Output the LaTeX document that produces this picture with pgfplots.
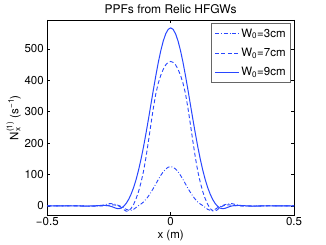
\documentclass[border=0pt]{standalone}
\usepackage{pgfplots}
\pgfplotsset{compat=1.18}
\usepackage{amsmath}
\usepackage{fontspec}
\setmainfont{TeX Gyre Heros}
\definecolor{mblue}{RGB}{40,70,255}
\begin{document}
\begin{tikzpicture}
\path[use as bounding box] (-47.3pt,-29.7pt) rectangle (278.7pt,215.3pt);
\begin{axis}[
  at={(0,0)}, anchor=south west,
  scale only axis, width=246.7pt, height=195.3pt,
  xmin=-0.5, xmax=0.5, ymin=-30, ymax=592,
  xtick={-0.5,0,0.5}, xticklabels={−0.5,0,0.5},
  ytick={0,100,200,300,400,500},
  tick align=inside, major tick length=3pt,
  minor tick num=0,
  axis line style={black, line width=0.6pt},
  every tick/.style={black, line width=0.4pt},
  tick label style={font=\fontsize{11.5}{13}\selectfont},
  xticklabel style={yshift=1.5pt},
  /pgf/number format/assume math mode=true,
  title={PPFs from Relic HFGWs},
  title style={font=\fontsize{12}{14}\selectfont, yshift=-3pt},
  xlabel={x (m)},
  xlabel style={font=\fontsize{11.5}{13}\selectfont, yshift=2.5pt},
  ylabel={N$_{\text{x}}^{\text{(1)}}$ (s$^{\text{−1}}$)},
  ylabel style={font=\fontsize{11.5}{13}\selectfont, yshift=-3pt},
  legend cell align=left,
  legend style={at={(0.988,0.983)}, anchor=north east, draw=black!60, line width=0.9pt,
    font=\fontsize{11.5}{13}\selectfont, row sep=5.5pt, inner sep=3pt},
  legend image code/.code={\draw[#1] (0pt,0pt) -- (24pt,0pt);},
]
\addplot[mblue, line width=0.9pt, dash pattern=on 4pt off 2pt on 0.8pt off 2pt] coordinates {
(-0.50,0) (-0.45,0) (-0.40,0.5) (-0.36,0) (-0.33,-1) (-0.30,-1) (-0.28,1) (-0.27,3) (-0.26,5) (-0.25,7) (-0.24,7) (-0.23,6) (-0.22,4) (-0.21,1) (-0.20,-2) (-0.19,-6) (-0.18,-11) (-0.17,-14) (-0.16,-14) (-0.15,-11) (-0.14,-5) (-0.13,1) (-0.12,6) (-0.11,12.5) (-0.10,21) (-0.09,31) (-0.08,43) (-0.07,56) (-0.06,70) (-0.05,84) (-0.04,97.2) (-0.03,108.6) (-0.02,117.4) (-0.01,123.1)
(0,125)
(0.01,123.1) (0.02,117.4) (0.03,108.6) (0.04,97.2) (0.05,84) (0.06,70) (0.07,56) (0.08,43) (0.09,31) (0.10,21) (0.11,12.5) (0.12,6) (0.13,1) (0.14,-5) (0.15,-11) (0.16,-14) (0.17,-14) (0.18,-11) (0.19,-6) (0.20,-2) (0.21,1) (0.22,4) (0.23,6) (0.24,7) (0.25,7) (0.26,5) (0.27,3) (0.28,1) (0.30,-1) (0.33,-1) (0.36,0) (0.40,0.5) (0.45,0) (0.50,0)
};
\addlegendentry{W$_{\text{0}}$=3cm}
\addplot[mblue, line width=0.9pt, dash pattern=on 4pt off 2.5pt] coordinates {
(-0.50,0) (-0.45,0) (-0.40,0.3) (-0.36,0) (-0.33,-0.5) (-0.30,-0.5) (-0.28,0) (-0.26,1) (-0.25,2) (-0.24,3) (-0.23,3) (-0.22,2) (-0.21,-1) (-0.20,-5) (-0.19,-12) (-0.18,-17) (-0.17,-16) (-0.16,-8) (-0.15,5) (-0.14,23) (-0.13,46) (-0.12,75) (-0.11,110) (-0.10,155) (-0.09,206) (-0.08,260) (-0.07,312) (-0.06,358) (-0.05,391) (-0.04,416) (-0.03,435) (-0.02,449) (-0.01,457)
(0,460)
(0.01,457) (0.02,449) (0.03,435) (0.04,416) (0.05,391) (0.06,358) (0.07,312) (0.08,260) (0.09,206) (0.10,155) (0.11,110) (0.12,75) (0.13,46) (0.14,23) (0.15,5) (0.16,-8) (0.17,-16) (0.18,-17) (0.19,-12) (0.20,-5) (0.21,-1) (0.22,2) (0.23,3) (0.24,3) (0.25,2) (0.26,1) (0.28,0) (0.30,-0.5) (0.33,-0.5) (0.36,0) (0.40,0.3) (0.45,0) (0.50,0)
};
\addlegendentry{W$_{\text{0}}$=7cm}
\addplot[mblue, line width=1pt] coordinates {
(-0.50,0) (-0.45,0) (-0.40,0.3) (-0.36,-0.5) (-0.33,-0.5) (-0.30,0.5) (-0.29,1) (-0.28,1.5) (-0.27,1.5) (-0.26,1) (-0.25,0) (-0.24,-2) (-0.23,-5) (-0.22,-8) (-0.21,-9) (-0.20,-7) (-0.19,-1) (-0.18,8) (-0.17,21) (-0.16,37.9) (-0.15,58.7) (-0.14,84.1) (-0.13,114.3) (-0.12,149.2) (-0.11,188.2) (-0.10,230.9) (-0.09,276.3) (-0.08,323.1) (-0.07,369.9) (-0.06,415.2) (-0.05,457.2) (-0.04,494.3) (-0.03,525.0) (-0.02,548.0) (-0.01,562.2)
(0,567)
(0.01,562.2) (0.02,548.0) (0.03,525.0) (0.04,494.3) (0.05,457.2) (0.06,415.2) (0.07,369.9) (0.08,323.1) (0.09,276.3) (0.10,230.9) (0.11,188.2) (0.12,149.2) (0.13,114.3) (0.14,84.1) (0.15,58.7) (0.16,37.9) (0.17,21) (0.18,8) (0.19,-1) (0.20,-7) (0.21,-9) (0.22,-8) (0.23,-5) (0.24,-2) (0.25,0) (0.26,1) (0.27,1.5) (0.28,1.5) (0.29,1) (0.30,0.5) (0.33,-0.5) (0.36,-0.5) (0.40,0.3) (0.45,0) (0.50,0)
};
\addlegendentry{W$_{\text{0}}$=9cm}
\end{axis}
\end{tikzpicture}
\end{document}
